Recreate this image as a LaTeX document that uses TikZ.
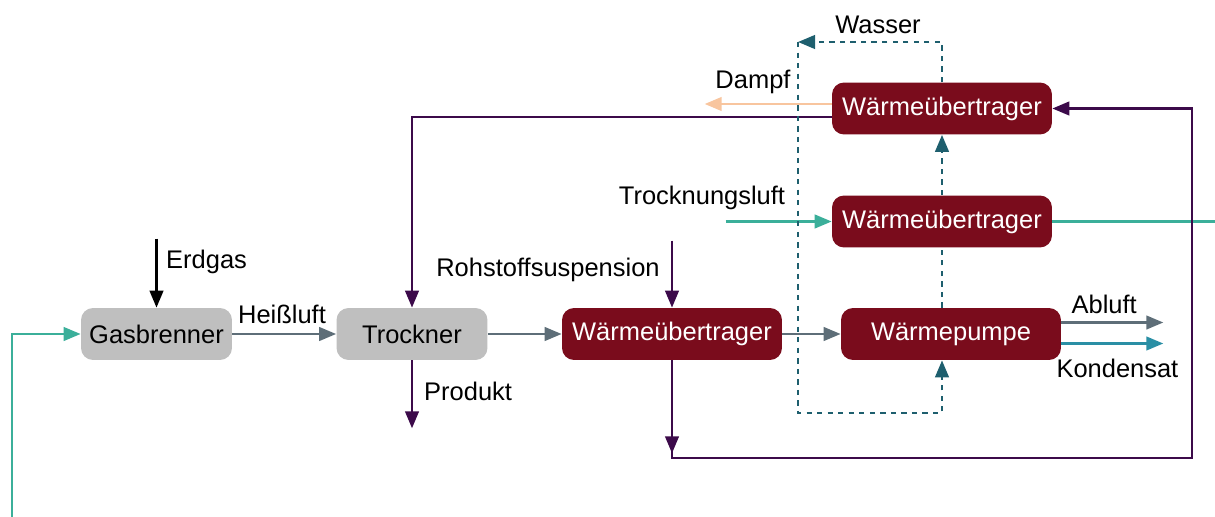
\documentclass[tikz,border=0pt]{standalone}
\usepackage{fontspec}
\setmainfont{Liberation Sans}
\usepackage{xcolor}
\usetikzlibrary{shapes,arrows,positioning,calc,arrows.meta}

\definecolor{boxred}{HTML}{7A0C1C}
\definecolor{boxgray}{HTML}{BFBFBF}
\definecolor{flowgray}{HTML}{5E6E78}
\definecolor{purp}{HTML}{3C0A4A}
\definecolor{airgreen}{HTML}{3BAF9A}
\definecolor{watert}{HTML}{1E5F6E}
\definecolor{kond}{HTML}{2A8FA5}
\definecolor{steam}{HTML}{F8C59E}

\begin{document}
\begin{tikzpicture}[x=0.02cm, y=-0.02cm,
    font=\fontsize{14.5}{17}\selectfont,
    unit/.style={rounded corners=0.24cm, minimum height=1.04cm, inner sep=0pt},
    graybox/.style={unit, fill=boxgray, minimum width=3.02cm},
    redbox/.style={unit, fill=boxred, text=white, minimum width=4.4cm},
    tip/.style={-{Triangle[length=0.34cm,width=0.27cm]}},
    flow/.style={line width=1.5pt}]
    \useasboundingbox (0,0) rectangle (1215,517);

    % Units
    \node[graybox] (gb) at (156.5,334) {Gasbrenner};
    \node[graybox] (tr) at (412,334) {Trockner};
    \node[redbox] (wue1) at (672,334) {Wärmeübertrager};
    \node[redbox] (wp) at (951,334) {Wärmepumpe};
    \node[redbox] (wue2) at (942,221.5) {Wärmeübertrager};
    \node[redbox] (wue3) at (942,108.5) {Wärmeübertrager};

    % Free ends
    \coordinate (gas) at ([shift={(0,-69)}]gb.north);
    \coordinate (susp) at ([shift={(0,-67)}]wue1.north);
    \coordinate (prod) at ([shift={(0,68)}]tr.south);
    \coordinate (loop) at (1192,458);
    \coordinate (luft) at ([shift={(-106,0)}]wue2.west);
    \coordinate (luftout) at (1215,221.5);
    \coordinate (luftin) at (12,517);
    \coordinate (wtop) at (798,42);
    \coordinate (wbot) at (798,413);

    % Air and gas
    \draw[flow, tip, black] (gas) -- (gb.north);
    \node[anchor=west] at (160,262) {Erdgas};
    \draw[flow, tip, flowgray] (gb) -- (tr);
    \node at (282,314) {Heißluft};
    \draw[flow, tip, flowgray] (tr) -- (wue1);
    \draw[flow, tip, flowgray] (wue1) -- (wp);
    \draw[flow, tip, flowgray] ([yshift=0.23cm]wp.east) -- ++(102,0) node[above=1pt, pos=0.42, black] {Abluft};
    \draw[flow, tip, kond] ([yshift=-0.19cm]wp.east) -- ++(102,0) node[below=5pt, pos=0.55, black] {Kondensat};
    \draw[flow, tip, airgreen] (luft) -- (wue2.west);
    \node at (702,198) {Trocknungsluft};
    \draw[flow, airgreen] (wue2.east) -- (luftout);
    \draw[flow, tip, airgreen] (luftin) |- (gb.west);

    % Product side
    \draw[flow, tip, purp] ([yshift=-0.17cm]wue3.west) -| (tr.north);
    \draw[flow, tip, purp] (tr.south) -- (prod);
    \node[anchor=west] at (418,391) {Produkt};
    \draw[flow, tip, purp] (susp) -- (wue1.north);
    \node at (548,270) {Rohstoffsuspension};
    \draw[flow, tip, purp] (wue1.south) -- ++(0,93);
    \draw[flow, tip, purp] (wue1.south) |- (loop) |- (wue3.east);
    \draw[flow, tip, steam] ([yshift=0.09cm]wue3.west) -- ++(-127,0);
    \node at (753,82) {Dampf};

    % Water circuit
    \draw[flow, dashed, watert] (wp.north -| wue2.south) -- (wue2.south);
    \draw[flow, dashed, tip, watert] (wue2.north) -- (wue3.south);
    \draw[flow, dashed, tip, watert] (wue3.north) |- (wtop);
    \node at (878,25) {Wasser};
    \draw[flow, dashed, tip, watert] (wtop) -- (wbot) -| (wp.south -| wue2.south);
\end{tikzpicture}
\end{document}
